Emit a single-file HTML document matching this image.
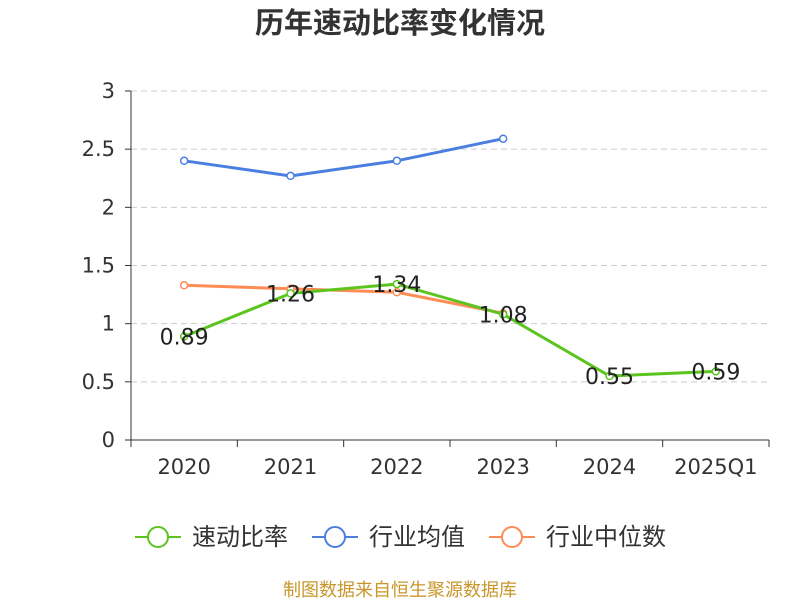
<!DOCTYPE html>
<html><head><meta charset="utf-8"><style>
body{margin:0;background:#fff;}
svg{display:block;font-family:"DejaVu Sans","Noto Sans CJK SC",sans-serif;}
</style></head><body>
<svg id="chart" width="800" height="600" viewBox="0 0 800 600">
<text x="400" y="33" text-anchor="middle" font-size="29" font-weight="bold" fill="#333" font-family="'Noto Sans CJK SC',sans-serif">历年速动比率变化情况</text>
<g id="grid"></g><g id="axes"></g><g id="series"></g><g id="labels"></g>
<g id="legend"></g>
<text x="400" y="596" text-anchor="middle" font-size="18" fill="#c9962b" font-family="'Noto Sans CJK SC',sans-serif">制图数据来自恒生聚源数据库</text>
</svg>
<script>
const categories=["2020","2021","2022","2023","2024","2025Q1"];
const quickRatio=[0.89,1.26,1.34,1.08,0.55,0.59];
const industryAvg=[2.40,2.27,2.40,2.59];
const industryMedian=[1.33,1.30,1.27,1.09];
const yTicks=[0,0.5,1,1.5,2,2.5,3];
const yTickLabels=["0","0.5","1","1.5","2","2.5","3"];
const seriesNames=["速动比率","行业均值","行业中位数"];
const colors=["#5bc41e","#4a7fe0","#ff8c55"];

const NS="http://www.w3.org/2000/svg";
const X0=131,X1=769,Y0=440,Y1=91,YMAX=3;
const band=(X1-X0)/categories.length;
const xs=i=>X0+band*(i+0.5);
const ys=v=>Y0-(v/YMAX)*(Y0-Y1);
function mk(tag,attrs,parent,text){const e=document.createElementNS(NS,tag);for(const k in attrs)e.setAttribute(k,attrs[k]);if(text!==undefined)e.textContent=text;document.getElementById(parent).appendChild(e);return e;}

yTicks.forEach((t,i)=>{
  const y=ys(t);
  if(t>0){const g=mk('line',{x1:X0,x2:X1,y1:y,y2:y,stroke:'#ccc','stroke-dasharray':'6,4'},'grid');
  
  }
  const tk=mk('line',{x1:X0-6,x2:X0,y1:y,y2:y,stroke:'#333'},'axes');
  
  
  const lb=mk('text',{x:X0-16,y:y+7,'text-anchor':'end','font-size':21,fill:'#333'},'axes',yTickLabels[i]);
  
  
});
const ya=mk('line',{x1:X0,x2:X0,y1:Y1,y2:Y0,stroke:'#333'},'axes');


const xa=mk('line',{x1:X0,x2:X1,y1:Y0,y2:Y0,stroke:'#333'},'axes');


for(let i=0;i<=categories.length;i++){
  const x=X0+band*i;
  const t=mk('line',{x1:x,x2:x,y1:Y0,y2:Y0+7,stroke:'#333'},'axes');
  
  
}
categories.forEach((c,i)=>{
  const t=mk('text',{x:xs(i),y:474,'text-anchor':'middle','font-size':21,fill:'#333'},'axes',c);
  
  
});

function drawSeries(vals,color,name){
  const pts=vals.map((v,i)=>xs(i)+','+ys(v)).join(' ');
  const pl=mk('polyline',{points:pts,fill:'none',stroke:color,'stroke-width':3},'series');
  
  
  vals.forEach((v,i)=>{
    const c=mk('circle',{cx:xs(i),cy:ys(v),r:3.5,fill:'#fff',stroke:color,'stroke-width':1.5},'series');
    
    
  });
}
drawSeries(industryAvg,colors[1],'industry-average');
drawSeries(industryMedian,colors[2],'industry-median');
drawSeries(quickRatio,colors[0],'quick-ratio');
quickRatio.forEach((v,i)=>{
  const t=mk('text',{x:xs(i),y:ys(v)+8,'text-anchor':'middle','font-size':22,fill:'#222'},'labels',v.toFixed(2));
  
  
});

const legX=[135,312,489];
seriesNames.forEach((n,i)=>{
  const x=legX[i],y=537;
  const l=mk('line',{x1:x,x2:x+46,y1:y,y2:y,stroke:colors[i],'stroke-width':2},'legend');
  
  
  const c=mk('circle',{cx:x+23,cy:y,r:10,fill:'#fff',stroke:colors[i],'stroke-width':2},'legend');
  
  
  const t=mk('text',{x:x+57,y:y+8,'font-size':24,fill:'#333','font-family':"'Noto Sans CJK SC',sans-serif"},'legend',n);
  
  
});
</script>
</body></html>
